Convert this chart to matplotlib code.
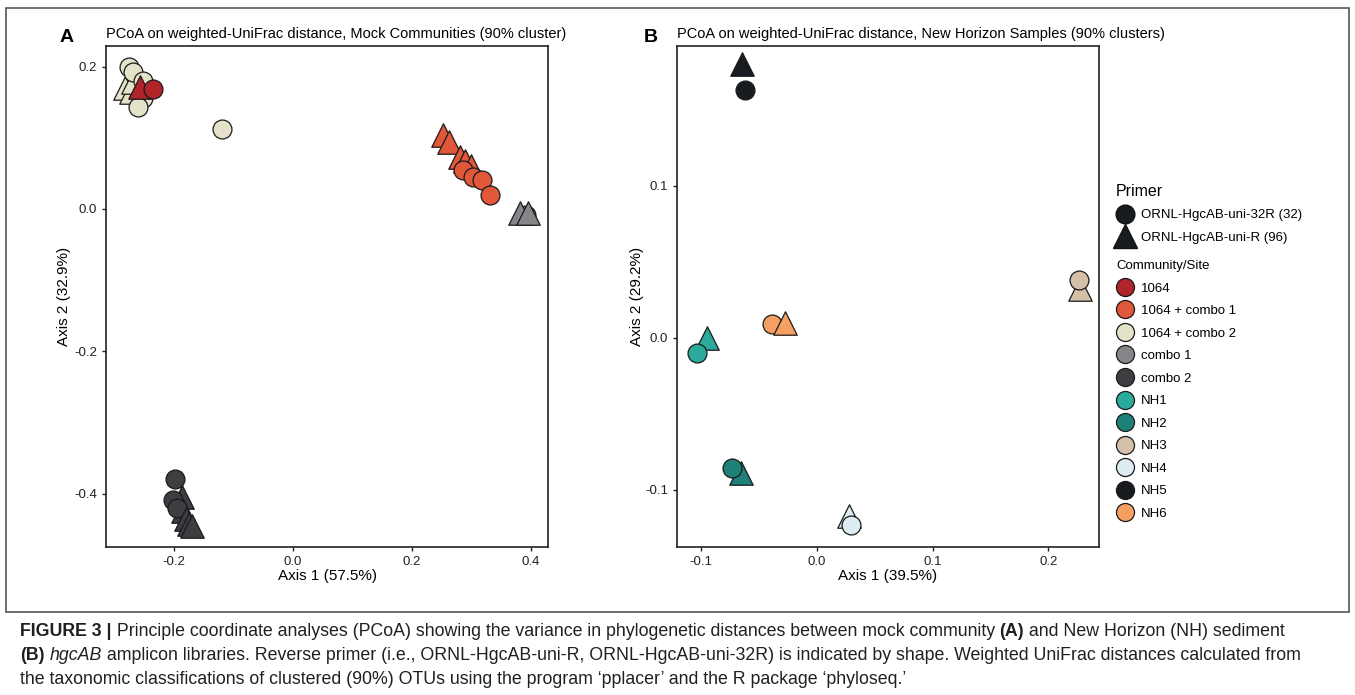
import matplotlib
matplotlib.use("Agg")
import matplotlib.pyplot as plt
from matplotlib.lines import Line2D
from matplotlib.patches import Rectangle

plt.rcParams['font.family'] = ['Liberation Sans', 'DejaVu Sans']
plt.rcParams['axes.unicode_minus'] = False

# colours for community / site
communities = ["1064", "1064 + combo 1", "1064 + combo 2", "combo 1", "combo 2",
               "NH1", "NH2", "NH3", "NH4", "NH5", "NH6"]
comm_colors = ["#B0242A", "#E0573A", "#E4E2C8", "#85868A", "#3E3E42",
               "#2BA99B", "#1E8078", "#D4BFA8", "#DDECF0", "#181C20", "#F5A062"]
color_of = dict(zip(communities, comm_colors))

primers = ["ORNL-HgcAB-uni-32R (32)", "ORNL-HgcAB-uni-R (96)"]
primer_marker = {"32": "o", "96": "^"}

# panel A - mock communities
a_x = [-0.282, -0.272, -0.268, -0.276, -0.268, -0.252, -0.252, -0.260, -0.119,
       -0.257, -0.235,
       0.252, 0.262, 0.281, 0.290, 0.300, 0.286, 0.303, 0.318, 0.331,
       0.392, 0.382, 0.395,
       -0.198, -0.187, -0.202, -0.185, -0.195, -0.180, -0.175, -0.170]
a_y = [0.170, 0.164, 0.178, 0.200, 0.192, 0.180, 0.156, 0.143, 0.112,
       0.172, 0.169,
       0.104, 0.094, 0.073, 0.068, 0.060, 0.055, 0.045, 0.041, 0.020,
       -0.008, -0.006, -0.006,
       -0.380, -0.405, -0.409, -0.425, -0.420, -0.435, -0.443, -0.446]
a_comm = ["1064 + combo 2"] * 9 + ["1064"] * 2 + ["1064 + combo 1"] * 9 + \
         ["combo 1"] * 3 + ["combo 2"] * 8
a_primer = ["96", "96", "96", "32", "32", "32", "32", "32", "32",
            "96", "32",
            "96", "96", "96", "96", "96", "32", "32", "32", "32",
            "32", "96", "96",
            "32", "96", "32", "96", "32", "96", "96", "96"]

# panel B - New Horizon samples
b_x = [-0.065, -0.062, -0.095, -0.104, -0.039, -0.028, -0.066, -0.0735,
       0.028, 0.029, 0.227, 0.226]
b_y = [0.180, 0.163, 0.000, -0.010, 0.009, 0.010, -0.089, -0.0855,
       -0.117, -0.123, 0.032, 0.038]
b_comm = ["NH5", "NH5", "NH1", "NH1", "NH6", "NH6", "NH2", "NH2",
          "NH4", "NH4", "NH3", "NH3"]
b_primer = ["96", "32", "96", "32", "32", "96", "96", "32",
            "96", "32", "96", "32"]

W, H = 1355, 695
fig = plt.figure(figsize=(W / 100, H / 100), dpi=100)


def px_box(l, t, r, b):
    return [l / W, 1 - b / H, (r - l) / W, (b - t) / H]


def draw_panel(ax, xs, ys, comms, prims):
    for x, y, c, p in zip(xs, ys, comms, prims):
        s = 185 if p == "32" else 285
        ax.scatter(x, y, s=s, marker=primer_marker[p], color=color_of[c],
                   edgecolor="#1a1a1a", linewidth=0.9, zorder=3)
    for sp in ax.spines.values():
        sp.set_linewidth(1.2)
        sp.set_color("#222222")
    ax.tick_params(labelsize=9.5, length=3, width=1, colors="#222222")


axA = fig.add_axes(px_box(106, 46, 548, 547))
draw_panel(axA, a_x, a_y, a_comm, a_primer)
axA.set_xlim(-0.314, 0.429)
axA.set_ylim(-0.475, 0.229)
axA.set_xticks([-0.2, 0.0, 0.2, 0.4])
axA.set_yticks([-0.4, -0.2, 0.0, 0.2])
axA.set_xlabel("Axis 1 (57.5%)", fontsize=11, labelpad=1)
axA.set_ylabel("Axis 2 (32.9%)", fontsize=11, labelpad=2)
axA.set_title("PCoA on weighted-UniFrac distance, Mock Communities (90% cluster)",
              fontsize=10.5, loc="left", pad=6)

axB = fig.add_axes(px_box(677, 46, 1099, 547))
draw_panel(axB, b_x, b_y, b_comm, b_primer)
axB.set_xlim(-0.121, 0.2437)
axB.set_ylim(-0.1375, 0.192)
axB.set_xticks([-0.1, 0.0, 0.1, 0.2])
axB.set_yticks([-0.1, 0.0, 0.1])
axB.set_xlabel("Axis 1 (39.5%)", fontsize=11, labelpad=1)
axB.set_ylabel("Axis 2 (29.2%)", fontsize=11, labelpad=1)
axB.set_title("PCoA on weighted-UniFrac distance, New Horizon Samples (90% clusters)",
              fontsize=10.5, loc="left", pad=6)

fig.text(60 / W, 1 - 37 / H, "A", fontsize=14, fontweight="bold", va="center", ha="left")
fig.text(644 / W, 1 - 37 / H, "B", fontsize=14, fontweight="bold", va="center", ha="left")

# legends
prim_handles = [Line2D([], [], marker=primer_marker[k], linestyle="none",
                       markersize=13.5 if k == "32" else 17, color="#181C20",
                       markeredgecolor="#111111") for k in ["32", "96"]]
leg1 = fig.legend(prim_handles, primers, title="Primer", loc="upper left",
                  bbox_to_anchor=(1116 / W, 1 - 184 / H), frameon=False,
                  fontsize=9.5, title_fontsize=11.5, alignment="left",
                  handlelength=1.4, handletextpad=0.5, labelspacing=0.76,
                  borderpad=0, borderaxespad=0)
comm_handles = [Line2D([], [], marker="o", linestyle="none", markersize=13,
                       markerfacecolor=color_of[c], markeredgecolor="#1a1a1a",
                       markeredgewidth=0.9) for c in communities]
leg2 = fig.legend(comm_handles, communities, title="Community/Site", loc="upper left",
                  bbox_to_anchor=(1116 / W, 1 - 260 / H), frameon=False,
                  fontsize=9.5, title_fontsize=9.5, alignment="left",
                  handlelength=1.4, handletextpad=0.5, labelspacing=0.78,
                  borderpad=0, borderaxespad=0)

# figure frame
fig.patches.append(Rectangle((6 / W, 1 - 612 / H), 1343 / W, 604 / H,
                             transform=fig.transFigure, fill=False,
                             edgecolor="#555555", linewidth=1.2))

# caption with mixed styles
cap_font = ['Liberation Sans', 'DejaVu Sans']
caption = [
    [("FIGURE 3 |", "bold", "normal"),
     (" Principle coordinate analyses (PCoA) showing the variance in phylogenetic "
      "distances between mock community ", "normal", "normal"),
     ("(A)", "bold", "normal"),
     (" and New Horizon (NH) sediment", "normal", "normal")],
    [("(B)", "bold", "normal"), (" ", "normal", "normal"),
     ("hgcAB", "normal", "italic"),
     (" amplicon libraries. Reverse primer (i.e., ORNL-HgcAB-uni-R, ORNL-HgcAB-uni-32R) "
      "is indicated by shape. Weighted UniFrac distances calculated from", "normal", "normal")],
    [("the taxonomic classifications of clustered (90%) OTUs using the program "
      "\u2018pplacer\u2019 and the R package \u2018phyloseq.\u2019", "normal", "normal")],
]
line_y = [631, 656, 680]
renderer = fig.canvas.get_renderer()
for runs, yy in zip(caption, line_y):
    x = 20
    for txt, wt, st in runs:
        t = fig.text(x / W, 1 - yy / H, txt, fontsize=12.8, fontweight=wt,
                     fontstyle=st, family=cap_font, color="#231F20",
                     va="center", ha="left")
        bb = t.get_window_extent(renderer)
        x += bb.width

fig.savefig("out.png", dpi=100)
